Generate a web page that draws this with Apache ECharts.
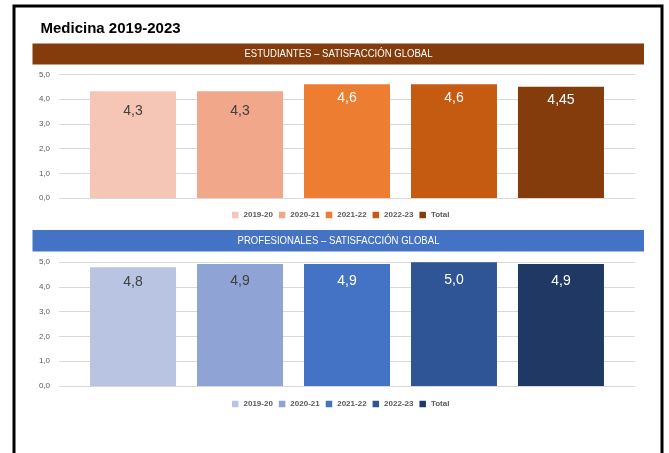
<!DOCTYPE html>
<html>
<head>
<meta charset="utf-8">
<script src="https://cdn.jsdelivr.net/npm/echarts@6/dist/echarts.min.js"></script>
<style>
html,body{margin:0;padding:0;background:#fff;}
#c{width:669px;height:453px;}
</style>
</head>
<body>
<div id="c"></div>
<script>
// ---- data ----
const seriesNames = ['2019-20', '2020-21', '2021-22', '2022-23', 'Total'];
const category = ['Satisfacción global'];
const estudiantesValues = [4.32, 4.32, 4.61, 4.61, 4.5];
const estudiantesLabels = ['4,3', '4,3', '4,6', '4,6', '4,45'];
const profesionalesValues = [4.79, 4.92, 4.92, 4.99, 4.92];
const profesionalesLabels = ['4,8', '4,9', '4,9', '5,0', '4,9'];
const yTicks = [0, 1, 2, 3, 4, 5];
const titleText = 'Medicina 2019-2023';
const banner1Text = 'ESTUDIANTES – SATISFACCIÓN GLOBAL';
const banner2Text = 'PROFESIONALES – SATISFACCIÓN GLOBAL';

// ---- styles ----
const FONT = '"Liberation Sans", Arial, sans-serif';
const estColors = ['#F5C6B5', '#F0A78A', '#ED7D31', '#C55A11', '#843C0C'];
const proColors = ['#B9C4E3', '#8FA3D4', '#4472C4', '#2F5597', '#203864'];
const estLabelColors = ['#404040', '#404040', '#ffffff', '#ffffff', '#ffffff'];
const proLabelColors = ['#404040', '#404040', '#ffffff', '#ffffff', '#ffffff'];
const estLabelDist = [13, 13, 7, 7, 6];
const proLabelDist = [8, 10, 10, 11, 10];

const chart = echarts.init(document.getElementById('c'), null, {renderer: 'canvas'});

function yAxis(idx) {
  return {
    gridIndex: idx, type: 'value', min: yTicks[0], max: yTicks[yTicks.length - 1], interval: 1,
    axisLine: {show: false}, axisTick: {show: false},
    axisLabel: {
      fontFamily: FONT, fontSize: 8, color: '#595959', margin: 9,
      formatter: v => v.toFixed(1).replace('.', ',')
    },
    splitLine: {lineStyle: {color: '#D9D9D9', width: 1}}
  };
}
function xAxis(idx) {
  return {
    gridIndex: idx, type: 'category', data: category,
    axisLine: {show: false}, axisTick: {show: false}, axisLabel: {show: false}
  };
}
function makeSeries(idx, values, labels, colors, labelColors, dists, suffix) {
  return seriesNames.map((n, i) => ({
    name: n + suffix,
    type: 'bar',
    xAxisIndex: idx, yAxisIndex: idx,
    barWidth: 86,
    barGap: '24.4%',
    data: [values[i]],
    itemStyle: {color: colors[i]},
    label: {
      show: true, position: 'insideTop', distance: dists[i],
      fontFamily: FONT, fontSize: 14, color: labelColors[i],
      formatter: () => labels[i]
    },
    emphasis: {disabled: true},
    animation: false
  }));
}

const legendCommon = {
  left: 232, padding: 0, icon: 'rect', itemWidth: 6.5, itemHeight: 6.5, itemGap: 6,
  textStyle: {fontFamily: FONT, fontSize: 8, fontWeight: 'bold', color: '#595959'},
  selectedMode: false
};

const option = {
  backgroundColor: '#ffffff',
  animation: false,
  grid: [
    {left: 59, right: 34, top: 74.5, height: 123.5},
    {left: 59, right: 34, top: 262, height: 124}
  ],
  xAxis: [xAxis(0), xAxis(1)],
  yAxis: [yAxis(0), yAxis(1)],
  legend: [
    Object.assign({}, legendCommon, {data: seriesNames, top: 211}),
    Object.assign({}, legendCommon, {data: seriesNames.map(n => n + ' '), top: 400, formatter: n => n.trim()})
  ],
  series: [
    ...makeSeries(0, estudiantesValues, estudiantesLabels, estColors, estLabelColors, estLabelDist, ''),
    ...makeSeries(1, profesionalesValues, profesionalesLabels, proColors, proLabelColors, proLabelDist, ' ')
  ],
  graphic: [
    {type: 'rect', shape: {x: 14, y: 6, width: 648, height: 470}, style: {fill: 'none', stroke: '#000', lineWidth: 3}, silent: true},
    {type: 'text', x: 40.5, y: 28.5, style: {text: titleText, font: 'bold 15px ' + FONT, fill: '#000', textVerticalAlign: 'middle'}, silent: true},
    {type: 'rect', shape: {x: 32.5, y: 43.5, width: 611.5, height: 21}, style: {fill: '#843C0C'}, silent: true},
    {type: 'text', x: 338.5, y: 54.2, scaleX: 0.87, style: {x: 0, y: 0, text: banner1Text, font: '11px ' + FONT, fill: '#fff', textAlign: 'center', textVerticalAlign: 'middle'}, silent: true},
    {type: 'rect', shape: {x: 32.5, y: 230, width: 611.5, height: 21.5}, style: {fill: '#4472C4'}, silent: true},
    {type: 'text', x: 338.5, y: 241, scaleX: 0.87, style: {x: 0, y: 0, text: banner2Text, font: '11px ' + FONT, fill: '#fff', textAlign: 'center', textVerticalAlign: 'middle'}, silent: true}
  ]
};
chart.setOption(option);
</script>
</body>
</html>
